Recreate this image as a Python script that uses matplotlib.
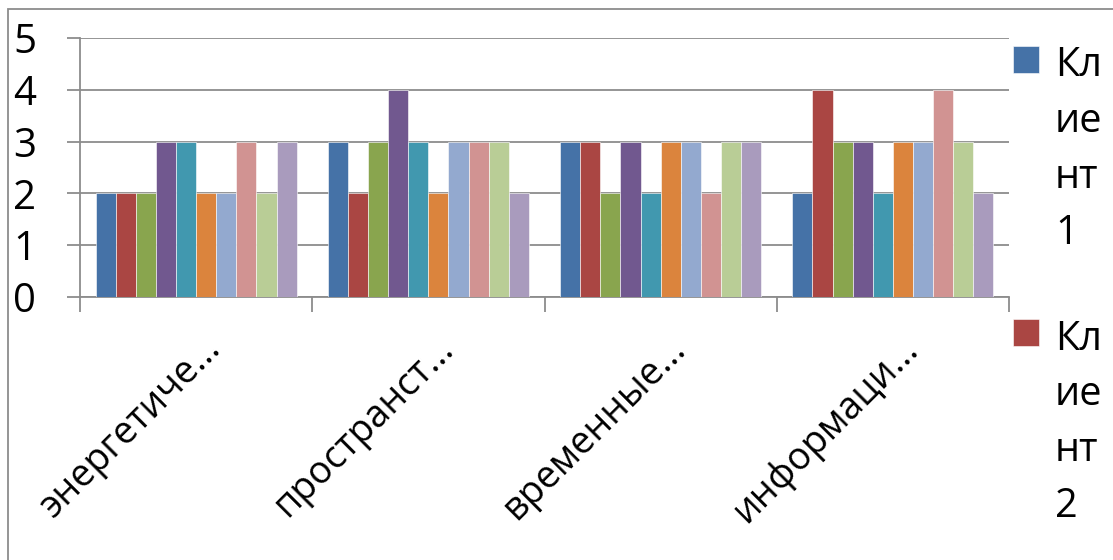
import matplotlib
matplotlib.use("Agg")
import matplotlib.pyplot as plt
from matplotlib.patches import Rectangle
from matplotlib.transforms import ScaledTranslation
import numpy as np

plt.rcParams['font.family'] = ['Open Sans', 'DejaVu Sans']

categories = ["энергетиче...", "пространст...", "временные...", "информаци..."]
series_names = ["Клиент 1", "Клиент 2", "Клиент 3", "Клиент 4", "Клиент 5",
                "Клиент 6", "Клиент 7", "Клиент 8", "Клиент 9", "Клиент 10"]
klient1 = [2, 3, 3, 2]
klient2 = [2, 2, 3, 4]
klient3 = [2, 3, 2, 3]
klient4 = [3, 4, 3, 3]
klient5 = [3, 3, 2, 2]
klient6 = [2, 2, 3, 3]
klient7 = [2, 3, 3, 3]
klient8 = [3, 3, 2, 4]
klient9 = [2, 3, 3, 3]
klient10 = [3, 2, 3, 2]
series = [klient1, klient2, klient3, klient4, klient5,
          klient6, klient7, klient8, klient9, klient10]
colors = ["#4572A7", "#AA4643", "#89A54E", "#71588F", "#4198AF",
          "#DB843D", "#93A9CF", "#D19392", "#B9CD96", "#A99BBD"]
y_ticks = [0, 1, 2, 3, 4, 5]

W, H = 1113, 560
fig = plt.figure(figsize=(W / 100, H / 100), dpi=100)
ax = fig.add_axes([80 / W, 1 - 297 / H, (1009 - 80) / W, (297 - 38) / H])

gray = "#8c8c8c"
n = len(series)
bw = 0.0866
x = np.arange(len(categories)) + 0.5
bars = []
for i, (vals, c) in enumerate(zip(series, colors)):
    b = ax.bar(x + (i - (n - 1) / 2) * bw, vals, width=bw, color=c,
               linewidth=0.4, edgecolor="white", zorder=3, label=series_names[i])
    bars.append(b)

ax.set_xlim(0, len(categories))
ax.set_ylim(0, 5)
ax.set_yticks(y_ticks)
ax.set_yticklabels([str(v) for v in y_ticks], fontsize=29)
ax.yaxis.grid(True, color=gray, linewidth=1.3, zorder=0)
ax.set_axisbelow(True)
for s in ["top", "right"]:
    ax.spines[s].set_visible(False)
for s in ["left", "bottom"]:
    ax.spines[s].set_color(gray)
    ax.spines[s].set_linewidth(1.3)
ax.tick_params(axis="y", length=9.5, width=1.3, color=gray, pad=22)

ax.set_xticks(np.arange(len(categories) + 1))
ax.set_xticklabels([])
ax.tick_params(axis="x", which="major", length=11, width=1.3, color=gray)
ax.set_xticks(x, minor=True)
ax.set_xticklabels(categories, minor=True, fontsize=27, rotation=45,
                   ha="right", va="top", rotation_mode="anchor")
ax.tick_params(axis="x", which="minor", length=0, pad=21)
off = ScaledTranslation(6 / 100, -3 / 100, fig.dpi_scale_trans)
for lbl in ax.get_xticklabels(minor=True):
    lbl.set_transform(lbl.get_transform() + off)

# chart border (cropped)
fig.patches.append(Rectangle((8 / W, -0.2), 1.5, 1.2 - 9 / H,
                             transform=fig.transFigure, fill=False,
                             edgecolor=gray, linewidth=1.3))

leg = fig.legend(handles=[bars[0], bars[1]],
                 labels=["Кл\nие\nнт\n1", "Кл\nие\nнт\n2"],
                 loc="upper left", bbox_to_anchor=(1013 / W, 1 - 46 / H),
                 frameon=False, fontsize=28.5, handlelength=0.66,
                 handleheight=0.66, handletextpad=0.4, labelspacing=1.65,
                 borderpad=0, borderaxespad=0)
for t in leg.get_texts():
    t.set_linespacing(1.5)
for hp in leg._legend_handle_box.get_children():
    for row in hp.get_children():
        row.align = "top"

fig.savefig("out.png", dpi=100)
